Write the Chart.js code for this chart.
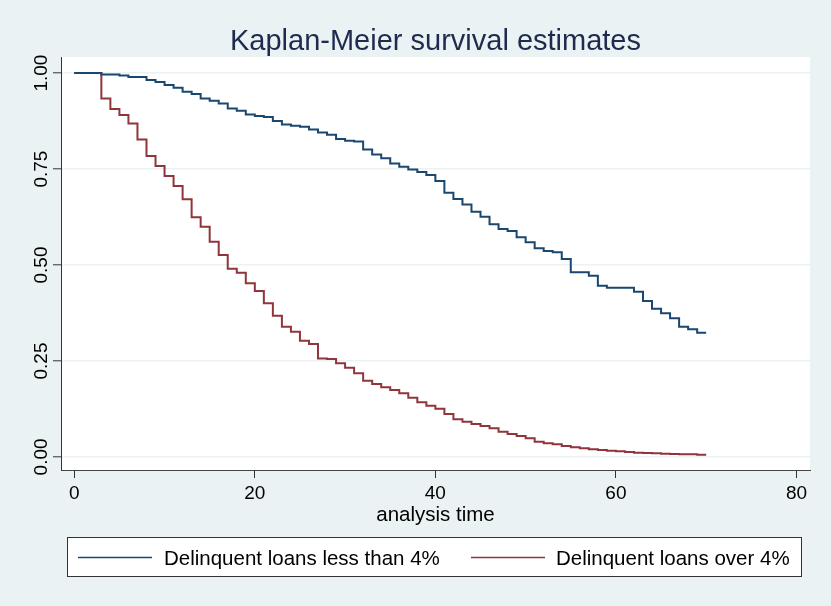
<!DOCTYPE html>
<html>
<head>
<meta charset="utf-8">
<script src="https://cdn.jsdelivr.net/npm/chart.js@4.4.1/dist/chart.umd.min.js"></script>
<style>
  html, body { margin: 0; padding: 0; background: #eaf2f3; }
  canvas { display: block; }
</style>
</head>
<body>
<canvas id="c" width="831" height="606"></canvas>
<script>
// ---- data ----
const chartTitle = "Kaplan-Meier survival estimates";
const xAxisTitle = "analysis time";
const seriesLabels = ["Delinquent loans less than 4%", "Delinquent loans over 4%"];
const xTickValues = [0, 20, 40, 60, 80];
const yTickValues = [0, 0.25, 0.5, 0.75, 1];
const yTickLabels = ["0.00", "0.25", "0.50", "0.75", "1.00"];

// analysis time (months) at which each survival value starts
const times = [0,1,2,3,4,5,6,7,8,9,10,11,12,13,14,15,16,17,18,19,20,21,22,23,24,25,26,27,28,29,30,
  31,32,33,34,35,36,37,38,39,40,41,42,43,44,45,46,47,48,49,50,51,52,53,54,55,56,57,58,59,60,
  61,62,63,64,65,66,67,68,69,70];

const survLow = [1,1,1,0.9966,0.9966,0.994,0.9896,0.9896,0.9818,0.9766,0.9688,0.9617,0.9513,0.9453,0.9341,
  0.9279,0.9211,0.9081,0.9018,0.8925,0.888,0.8854,0.875,0.8664,0.8628,0.8602,0.8529,0.845,0.8393,0.8281,
  0.8237,0.8221,0.8013,0.7883,0.7779,0.7648,0.756,0.7492,0.7422,0.7344,0.7188,0.6883,0.6719,0.658,0.6388,
  0.6258,0.606,0.5938,0.5885,0.5721,0.5591,0.5435,0.5365,0.5331,0.5156,0.481,0.481,0.4721,0.4461,0.4409,
  0.4409,0.4409,0.4305,0.4063,0.3862,0.3742,0.3612,0.3393,0.3326,0.3237,0.3237];

const survHigh = [1,1,1,0.934,0.9063,0.8906,0.869,0.8273,0.7839,0.7578,0.7318,0.7057,0.6711,0.6242,0.5997,
  0.5607,0.526,0.4904,0.4799,0.4523,0.4323,0.4003,0.368,0.3393,0.3263,0.3029,0.2943,0.2565,0.2552,0.244,
  0.2326,0.218,0.1987,0.1901,0.1815,0.1745,0.1659,0.1544,0.1424,0.1336,0.1258,0.112,0.0982,0.0919,0.0859,
  0.0807,0.0747,0.0659,0.0599,0.0547,0.0487,0.0398,0.0357,0.0331,0.0286,0.0253,0.0227,0.02,0.0182,0.0164,
  0.0148,0.013,0.0112,0.0104,0.0096,0.0086,0.0078,0.0073,0.007,0.006,0.006];

const colors = ["#1a476f", "#90353b"];
const FONT = '"Liberation Sans", Arial, Helvetica, sans-serif';

Chart.defaults.font.family = FONT;
Chart.defaults.color = "#000";

const toPoints = (vals) => times.map((t, i) => ({ x: t, y: vals[i] }));

const decor = {
  id: "decor",
  beforeDraw(chart) {
    const { ctx, chartArea: a } = chart;
    ctx.save();
    ctx.fillStyle = "#eaf2f3";
    ctx.fillRect(0, 0, chart.width, chart.height);
    ctx.fillStyle = "#ffffff";
    ctx.fillRect(a.left, a.top, a.right - a.left, a.bottom - a.top);
    ctx.restore();
  },
  afterDraw(chart) {
    const { ctx } = chart;
    const ys = chart.scales.y;
    ctx.save();
    // title
    ctx.fillStyle = "#1e2b4f";
    ctx.font = "29px " + FONT;
    ctx.textAlign = "center";
    ctx.textBaseline = "alphabetic";
    ctx.fillText(chartTitle, 435.5, 50);
    // rotated y tick labels
    ctx.fillStyle = "#000";
    ctx.font = "19px " + FONT;
    yTickValues.forEach((v, i) => {
      const py = ys.getPixelForValue(v);
      ctx.save();
      ctx.translate(46.5, py);
      ctx.rotate(-Math.PI / 2);
      ctx.textAlign = "center";
      ctx.textBaseline = "alphabetic";
      ctx.fillText(yTickLabels[i], 0, 0);
      ctx.restore();
    });
    // legend box
    ctx.fillStyle = "#ffffff";
    ctx.fillRect(68, 538, 734, 39);
    ctx.strokeStyle = "#333";
    ctx.lineWidth = 1;
    ctx.strokeRect(67.5, 537.5, 734, 39);
    const items = [
      { x0: 78, x1: 152, tx: 164 },
      { x0: 471, x1: 545, tx: 556 }
    ];
    chart.data.datasets.forEach((ds, i) => {
      const it = items[i];
      ctx.strokeStyle = ds.borderColor;
      ctx.lineWidth = 1.6;
      ctx.beginPath();
      ctx.moveTo(it.x0, 557.5);
      ctx.lineTo(it.x1, 557.5);
      ctx.stroke();
      ctx.fillStyle = "#000";
      ctx.font = "20.5px " + FONT;
      ctx.textAlign = "left";
      ctx.textBaseline = "alphabetic";
      ctx.fillText(ds.label, it.tx, 564.5);
    });
    ctx.restore();
  }
};

new Chart(document.getElementById("c"), {
  type: "line",
  data: {
    datasets: [
      { label: seriesLabels[0], data: toPoints(survLow), borderColor: colors[0], backgroundColor: colors[0],
        borderWidth: 2, stepped: true, pointRadius: 0, fill: false },
      { label: seriesLabels[1], data: toPoints(survHigh), borderColor: colors[1], backgroundColor: colors[1],
        borderWidth: 2, stepped: true, pointRadius: 0, fill: false }
    ]
  },
  options: {
    responsive: false,
    animation: false,
    devicePixelRatio: 1,
    layout: { padding: { top: 57, right: 21, left: 0, bottom: 78.7 } },
    plugins: {
      legend: { display: false },
      title: { display: false },
      tooltip: { enabled: false }
    },
    scales: {
      x: {
        type: "linear",
        min: -1.47,
        max: 81.5,
        afterBuildTicks: (s) => { s.ticks = xTickValues.map(v => ({ value: v })); },
        afterFit: (s) => { s.height = 57.3; },
        ticks: { font: { size: 19 }, color: "#000", padding: 4, maxRotation: 0, autoSkip: false },
        grid: { drawOnChartArea: false, drawTicks: true, tickLength: 8, tickColor: "#333", tickWidth: 1 },
        border: { display: true, color: "#444", width: 1 },
        title: { display: true, text: xAxisTitle, font: { size: 20.5 }, color: "#000", padding: { top: 0, bottom: 0 } }
      },
      y: {
        type: "linear",
        min: -0.034,
        max: 1.042,
        afterBuildTicks: (s) => { s.ticks = yTickValues.map(v => ({ value: v })); },
        afterFit: (s) => { s.width = 61; },
        ticks: { display: false },
        grid: { color: "#eaf2f3", lineWidth: 1.6, drawTicks: true, tickLength: 8, tickColor: "#333", tickWidth: 1 },
        border: { display: true, color: "#333", width: 1 }
      }
    }
  },
  plugins: [decor]
});
</script>
</body>
</html>
